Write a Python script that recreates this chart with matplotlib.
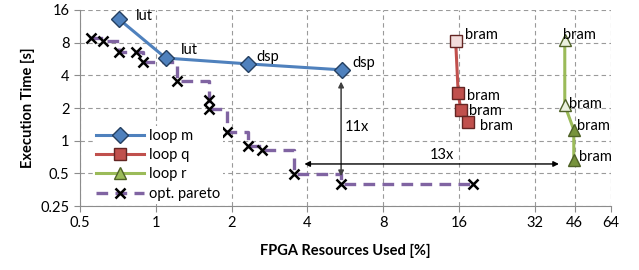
import matplotlib
matplotlib.use("Agg")
import matplotlib.pyplot as plt
from matplotlib.ticker import FixedLocator, NullLocator

plt.rcParams['font.family'] = ['Lato', 'DejaVu Sans']

# loop m (blue diamonds)
m_x = [0.714, 1.096, 2.32, 5.5]
m_y = [13.2, 5.77, 5.1, 4.49]
m_lbl = ["lut", "lut", "dsp", "dsp"]

# loop q (red squares)
q_x = [15.5, 15.86, 16.25, 17.3]
q_y = [8.2, 2.73, 1.92, 1.48]
q_lbl = ["bram", "bram", "bram", "bram"]

# loop r (green triangles)
r_x = [42.0, 42.0, 45.6, 45.6]
r_y = [8.45, 2.12, 1.26, 0.666]
r_lbl = ["bram", "bram", "bram", "bram"]

# optimal pareto front
p_x = [0.556, 0.618, 0.716, 0.833, 0.89, 1.21, 1.62, 1.63, 1.92, 2.32, 2.65, 3.55, 5.44, 18.2]
p_y = [8.78, 8.2, 6.6, 6.5, 5.35, 3.55, 2.37, 1.96, 1.2, 0.90, 0.82, 0.49, 0.397, 0.395]

xticks = [0.5, 1, 2, 4, 8, 16, 32, 46, 64]
yticks = [0.25, 0.5, 1, 2, 4, 8, 16]

fig = plt.figure(figsize=(6.39, 2.70), dpi=100)
ax = fig.add_axes([0.125, 0.237, 0.831, 0.726])
ax.set_xscale('log', base=2)
ax.set_yscale('log', base=2)
ax.set_xlim(0.5, 64)
ax.set_ylim(0.25, 16)

ax.xaxis.set_major_locator(FixedLocator(xticks))
ax.xaxis.set_minor_locator(NullLocator())
ax.set_xticklabels([f"{t:g}" for t in xticks])
ax.yaxis.set_major_locator(FixedLocator(yticks))
ax.yaxis.set_minor_locator(NullLocator())
ax.set_yticklabels([f"{t:g}" for t in yticks])

ax.grid(True, color='#9a9a9a', linestyle=(0, (4, 3)), linewidth=0.8)
ax.set_axisbelow(True)
for s in ['top', 'right']:
    ax.spines[s].set_visible(False)
for s in ['left', 'bottom']:
    ax.spines[s].set_color('#8c8c8c')
ax.tick_params(colors='#8c8c8c', labelcolor='black', labelsize=10.5, length=4, direction='out')

ax.set_xlabel("FPGA Resources Used [%]", fontweight='bold', fontsize=10.5, labelpad=10)
ax.set_ylabel("Execution Time [s]", fontweight='bold', fontsize=10.5, labelpad=4)

ax.plot(p_x, p_y, drawstyle='steps-post', color='#8064a2', lw=2.4,
        dashes=(3.5, 2.2), zorder=2)
ax.plot(p_x, p_y, linestyle='none', marker='x', color='black', ms=6.5, mew=1.8, zorder=3)
h_p, = ax.plot([], [], color='#8064a2', lw=2.4, dashes=(3.5, 2.2), marker='x',
               mec='black', ms=6.5, mew=1.8)

h_m, = ax.plot(m_x, m_y, color='#4f81bd', lw=2.2, marker='D', ms=8,
               mfc='#4f81bd', mec='#243f60', mew=1.0, zorder=4)
ax.plot(q_x, q_y, color='#c0504d', lw=2.2, zorder=4)
ax.plot(q_x[:1], q_y[:1], linestyle='none', marker='s', ms=8.5, mfc='#f2dcdb',
        mec='#632523', mew=1.0, zorder=5)
ax.plot(q_x[1:], q_y[1:], linestyle='none', marker='s', ms=8.5, mfc='#c0504d',
        mec='#632523', mew=1.0, zorder=5)
h_q, = ax.plot([], [], color='#c0504d', lw=2.2, marker='s', ms=8.5, mfc='#c0504d',
               mec='#632523', mew=1.0)
ax.plot(r_x, r_y, color='#9bbb59', lw=2.2, zorder=4)
ax.plot(r_x[:2], r_y[:2], linestyle='none', marker='^', ms=8.5, mfc='#ebf1de',
        mec='#4f6228', mew=1.0, zorder=5)
ax.plot(r_x[2:], r_y[2:], linestyle='none', marker='^', ms=8.5, mfc='#77933c',
        mec='#4f6228', mew=1.0, zorder=5)
h_r, = ax.plot([], [], color='#9bbb59', lw=2.2, marker='^', ms=8.5, mfc='#9bbb59',
               mec='#4f6228', mew=1.0)

# point labels (offsets in points)
m_off = [(12, 2), (11, 6), (6, 5), (7, 5)]
q_off = [(7, 5), (6, -2), (6, -1), (9, -3)]
r_off = [(-1, 4), (3, 1), (2, 3), (4, 2)]
for xs, ys, lbls, offs in [(m_x, m_y, m_lbl, m_off), (q_x, q_y, q_lbl, q_off),
                           (r_x, r_y, r_lbl, r_off)]:
    for xv, yv, t, o in zip(xs, ys, lbls, offs):
        ax.annotate(t, (xv, yv), xytext=o, textcoords='offset points',
                    fontsize=10.5, va='center', ha='left', zorder=6)

# speedup arrows
ax.annotate("", xy=(5.44, 0.47), xytext=(5.44, 3.5),
            arrowprops=dict(arrowstyle='<|-|>', color='#404040', lw=1.1,
                            mutation_scale=8, shrinkA=0, shrinkB=0), zorder=6)
ax.text(5.63, 1.34, "11x", fontsize=10.5, va='center', ha='left')
ax.annotate("", xy=(39.8, 0.61), xytext=(3.89, 0.61),
            arrowprops=dict(arrowstyle='<|-|>', color='black', lw=1.0,
                            mutation_scale=8, shrinkA=0, shrinkB=0), zorder=6)
ax.text(12.2, 0.74, "13x", fontsize=10.5, va='center', ha='left')

leg = ax.legend([h_m, h_q, h_r, h_p], ["loop m", "loop q", "loop r", "opt. pareto"],
                loc='upper left', bbox_to_anchor=(0.025, 0.408), frameon=True,
                fancybox=False, edgecolor='none', facecolor='white', framealpha=1,
                fontsize=10.5, handlelength=3.3, handletextpad=0.3,
                labelspacing=0.36, borderpad=0.2, borderaxespad=0)

fig.savefig("out.png", dpi=100)
